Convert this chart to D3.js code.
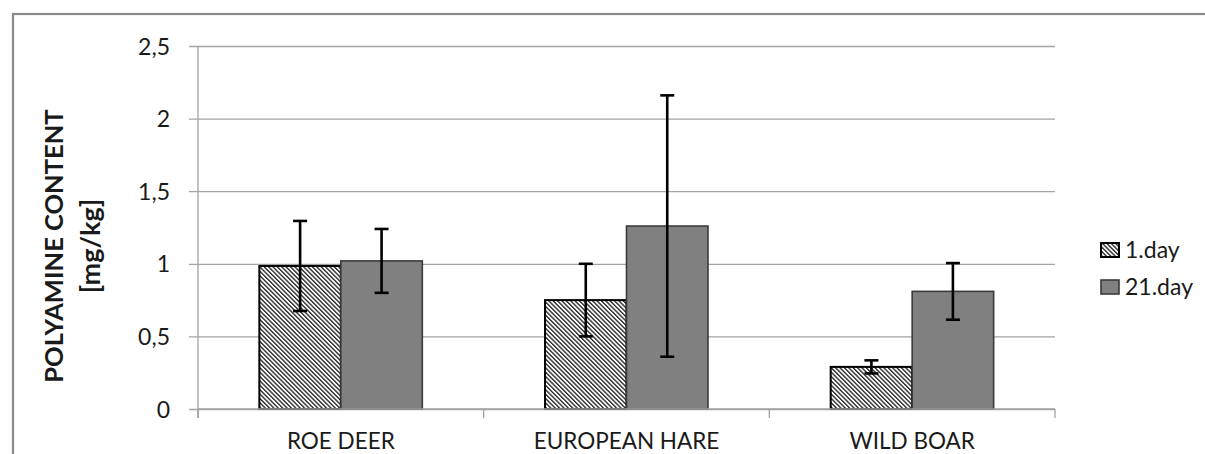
<!DOCTYPE html>
<html>
<head>
<meta charset="utf-8">
<script src="https://cdn.jsdelivr.net/npm/d3@7"></script>
<style>
  html, body { margin: 0; padding: 0; background: #fff; }
  svg { display: block; }
  text { font-family: Lato, "Open Sans", sans-serif; fill: #1a1a1a; }
</style>
</head>
<body>
<svg id="chart" width="1205" height="454"></svg>
<script>
// Polyamine content by species, day 1 vs day 21 of storage
const categories = ["ROE DEER", "EUROPEAN HARE", "WILD BOAR"];
const seriesNames = ["1.day", "21.day"];
const day1Means = [0.985, 0.75, 0.29];
const day1Errors = [0.31, 0.25, 0.045];
const day21Means = [1.02, 1.26, 0.81];
const day21Errors = [0.22, 0.90, 0.195];
const yTicks = [0, 0.5, 1, 1.5, 2, 2.5];
const yTickLabels = ["0", "0,5", "1", "1,5", "2", "2,5"];

const rows = categories.map((c, i) => ({
  category: c,
  values: [
    { series: seriesNames[0], mean: day1Means[i], err: day1Errors[i] },
    { series: seriesNames[1], mean: day21Means[i], err: day21Errors[i] }
  ]
}));

const svg = d3.select("#chart");
const plot = { left: 198, right: 1055, top: 46, bottom: 409 };

// fill patterns: fine diagonal hatch for day 1
const defs = svg.append("defs");
const hp = 3.1;
const hatch = defs.append("pattern")
  .attr("id", "hatch")
  .attr("patternUnits", "userSpaceOnUse")
  .attr("width", hp).attr("height", hp)
  .attr("patternTransform", "rotate(-45)");
hatch.append("rect").attr("width", hp).attr("height", hp).attr("fill", "#fff");
hatch.append("line").attr("x1", 0.7).attr("y1", 0).attr("x2", 0.7).attr("y2", hp)
  .attr("stroke", "#000").attr("stroke-width", 1.15);

const fills = { "1.day": "url(#hatch)", "21.day": "#808080" };
const strokes = { "1.day": "#000", "21.day": "#3a3a3a" };
const strokeW = { "1.day": 2, "21.day": 1.6 };

// outer chart frame (only top and left edges fall inside the view)
svg.append("rect")
  .attr("x", 13).attr("y", 14)
  .attr("width", 1400).attr("height", 600)
  .attr("fill", "none").attr("stroke", "#8a8a8a").attr("stroke-width", 2.2);

const x0 = d3.scaleBand().domain(categories).range([plot.left, plot.right]).padding(0);
const x1 = d3.scaleBand().domain(seriesNames).range([0, x0.bandwidth()])
  .paddingInner(0).paddingOuter(0.753);
const y = d3.scaleLinear().domain([0, 2.5]).range([plot.bottom, plot.top]);

// gridlines with short ticks left of the axis
const yAxis = d3.axisLeft(y)
  .tickValues(yTicks)
  .tickSize(-(plot.right - plot.left))
  .tickFormat((d, i) => yTickLabels[i]);
const gy = svg.append("g").attr("transform", `translate(${plot.left},0)`).call(yAxis);
gy.select(".domain").remove();
gy.selectAll(".tick line").attr("stroke", "#a3a3a3").attr("stroke-width", 1.3).attr("x1", -9);
gy.selectAll(".tick text")
  .attr("x", -28).attr("dy", "0.35em")
  .attr("font-size", 23).attr("fill", "#1a1a1a")
  .attr("font-family", "Lato, sans-serif");

// vertical axis line
svg.append("line")
  .attr("x1", plot.left).attr("x2", plot.left)
  .attr("y1", plot.top).attr("y2", plot.bottom + 9)
  .attr("stroke", "#a3a3a3").attr("stroke-width", 1.3);

// bars
const groups = svg.append("g").selectAll("g")
  .data(rows).join("g")
  .attr("transform", d => `translate(${x0(d.category)},0)`);

groups.selectAll("rect")
  .data(d => d.values).join("rect")
  .attr("x", d => x1(d.series))
  .attr("width", x1.bandwidth())
  .attr("y", d => y(d.mean))
  .attr("height", d => y(0) - y(d.mean))
  .attr("fill", d => fills[d.series])
  .attr("stroke", d => strokes[d.series])
  .attr("stroke-width", d => strokeW[d.series]);

// x axis with category boundary ticks
const xAxisLine = svg.append("g");
xAxisLine.append("line")
  .attr("x1", plot.left).attr("x2", plot.right)
  .attr("y1", plot.bottom).attr("y2", plot.bottom)
  .attr("stroke", "#a3a3a3").attr("stroke-width", 1.3);
const bounds = categories.map(c => x0(c)).concat([plot.right]);
xAxisLine.selectAll(".bt").data(bounds).join("line")
  .attr("x1", d => d).attr("x2", d => d)
  .attr("y1", plot.bottom).attr("y2", plot.bottom + 9)
  .attr("stroke", "#a3a3a3").attr("stroke-width", 1.3);
xAxisLine.selectAll("text").data(categories).join("text")
  .attr("x", d => x0(d) + x0.bandwidth() / 2)
  .attr("y", 449)
  .attr("text-anchor", "middle")
  .attr("font-size", 22.5)
  .text(d => d);

// error bars
const capHalf = 7;
const eb = groups.selectAll("g.err")
  .data(d => d.values).join("g").attr("class", "err")
  .attr("stroke", "#000").attr("stroke-width", 2.6);
eb.append("line")
  .attr("x1", d => x1(d.series) + x1.bandwidth() / 2)
  .attr("x2", d => x1(d.series) + x1.bandwidth() / 2)
  .attr("y1", d => y(d.mean + d.err))
  .attr("y2", d => y(d.mean - d.err));
eb.append("line")
  .attr("x1", d => x1(d.series) + x1.bandwidth() / 2 - capHalf)
  .attr("x2", d => x1(d.series) + x1.bandwidth() / 2 + capHalf)
  .attr("y1", d => y(d.mean + d.err))
  .attr("y2", d => y(d.mean + d.err));
eb.append("line")
  .attr("x1", d => x1(d.series) + x1.bandwidth() / 2 - capHalf)
  .attr("x2", d => x1(d.series) + x1.bandwidth() / 2 + capHalf)
  .attr("y1", d => y(d.mean - d.err))
  .attr("y2", d => y(d.mean - d.err));

// y axis title
const title = svg.append("text")
  .attr("transform", "translate(0,246) rotate(-90)")
  .attr("text-anchor", "middle")
  .attr("font-weight", "bold")
  .attr("font-size", 25.5);
title.append("tspan").attr("x", 0).attr("y", 63).text("POLYAMINE CONTENT");
title.append("tspan").attr("x", 0).attr("y", 100).attr("font-size", 27).text("[mg/kg]");

// legend
const legend = svg.append("g").selectAll("g")
  .data(seriesNames).join("g")
  .attr("transform", (d, i) => `translate(1101,${243 + i * 37})`);
legend.append("rect")
  .attr("width", 18).attr("height", 14)
  .attr("fill", d => fills[d])
  .attr("stroke", d => strokes[d])
  .attr("stroke-width", d => strokeW[d]);
legend.append("text")
  .attr("x", 24).attr("y", 7).attr("dy", "0.36em")
  .attr("font-size", 23)
  .text(d => d);
</script>
</body>
</html>
